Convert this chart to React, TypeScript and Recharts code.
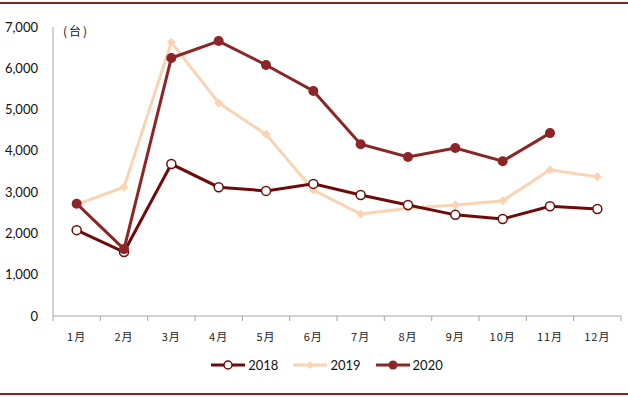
import React from 'react';
import { LineChart, Line, XAxis, YAxis, Legend } from 'recharts';

const months = ['1月', '2月', '3月', '4月', '5月', '6月', '7月', '8月', '9月', '10月', '11月', '12月'];
const s2018 = [2080, 1550, 3680, 3120, 3030, 3200, 2930, 2690, 2450, 2350, 2660, 2590];
const s2019 = [2700, 3120, 6630, 5160, 4400, 3050, 2470, 2610, 2690, 2790, 3540, 3370];
const s2020 = [2720, 1620, 6250, 6660, 6080, 5450, 4160, 3850, 4070, 3750, 4430, null];
const yTicks = [0, 1000, 2000, 3000, 4000, 5000, 6000, 7000];
const xTicks = [0.5, 1, 1.5, 2, 2.5, 3, 3.5, 4, 4.5, 5, 5.5, 6, 6.5, 7, 7.5, 8, 8.5, 9, 9.5, 10, 10.5, 11, 11.5, 12, 12.5];

const C2018 = '#6E0A0A';
const C2019 = '#FBD3B2';
const C2020 = '#8C2626';

const data = months.map((m, i) => ({ x: i + 1, name: m, y2018: s2018[i], y2019: s2019[i], y2020: s2020[i] }));

const XTick = (props: any) => {
  const { x, y, payload } = props;
  const v = payload.value;
  if (Number.isInteger(v)) {
    return (
      <text x={x} y={y + 17} textAnchor="middle" fontSize={11} fill="#222" fontFamily="'Noto Sans CJK SC', serif" letterSpacing={1}>
        {months[v - 1]}
      </text>
    );
  }
  return <line x1={x} x2={x} y1={y - 8} y2={y - 3} stroke="#a6a6a6" strokeWidth={1} />;
};

const Diamond = (props: any) => {
  const { cx, cy } = props;
  if (cx == null || cy == null) return null;
  return <path d={`M${cx},${cy - 4.5}L${cx + 4.5},${cy}L${cx},${cy + 4.5}L${cx - 4.5},${cy}Z`} fill={C2019} />;
};

const LegendContent = () => {
  const item = (color: string, label: string, marker: React.ReactNode) => (
    <div style={{ display: 'flex', alignItems: 'center', marginRight: 14 }}>
      <svg width={36} height={12}>
        <line x1={1} x2={35} y1={6} y2={6} stroke={color} strokeWidth={3} />
        {marker}
      </svg>
      <span style={{ marginLeft: 2, fontSize: 13, color: '#111', fontFamily: 'Lato, sans-serif' }}>{label}</span>
    </div>
  );
  return (
    <div style={{ display: 'flex', justifyContent: 'center', height: 20, alignItems: 'center', paddingLeft: 46 }}>
      {item(C2018, '2018', <circle cx={18} cy={6} r={4} fill="#fff" stroke={C2018} strokeWidth={1.5} />)}
      {item(C2019, '2019', <path d="M18,2L22,6L18,10L14,6Z" fill={C2019} />)}
      {item(C2020, '2020', <circle cx={18} cy={6} r={4.5} fill={C2020} />)}
    </div>
  );
};

export default function App() {
  return (
    <div style={{ position: 'absolute', left: 0, top: 0, width: 628, height: 397, background: '#fff' }}>
      <div style={{ position: 'absolute', left: 0, top: 2, width: 628, height: 2, background: '#8B2222' }} />
      <div style={{ position: 'absolute', left: 0, top: 393, width: 628, height: 2, background: '#8B2222' }} />
      <div style={{ position: 'absolute', left: 63, top: 22, fontSize: 12, fontFamily: "'Noto Sans CJK SC', sans-serif", color: '#111', letterSpacing: 2 }}>(台)</div>
      <LineChart width={628} height={397} data={data} margin={{ top: 27, right: 7, bottom: 22, left: 0 }}>
        <XAxis
          dataKey="x"
          type="number"
          domain={[0.5, 12.5]}
          ticks={xTicks}
          interval={0}
          tick={<XTick />}
          tickLine={false}
          axisLine={{ stroke: '#a6a6a6' }}
          height={39}
        />
        <YAxis
          domain={[0, 7000]}
          ticks={yTicks}
          width={53}
          tickLine={false}
          axisLine={{ stroke: '#a6a6a6' }}
          tickFormatter={(v: number) => v.toLocaleString('en-US')}
          tick={{ fontSize: 13, fill: '#111', fontFamily: 'Lato, sans-serif' }}
          tickMargin={9}
        />
        <Legend verticalAlign="bottom" content={<LegendContent />} />
        <Line dataKey="y2019" stroke={C2019} strokeWidth={3} dot={<Diamond />} isAnimationActive={false} />
        <Line dataKey="y2018" stroke={C2018} strokeWidth={3} dot={{ r: 4.5, fill: '#fff', stroke: C2018, strokeWidth: 1.5 }} isAnimationActive={false} />
        <Line dataKey="y2020" stroke={C2020} strokeWidth={3} dot={{ r: 5, fill: C2020, stroke: C2020, strokeWidth: 0 }} isAnimationActive={false} />
      </LineChart>
    </div>
  );
}
